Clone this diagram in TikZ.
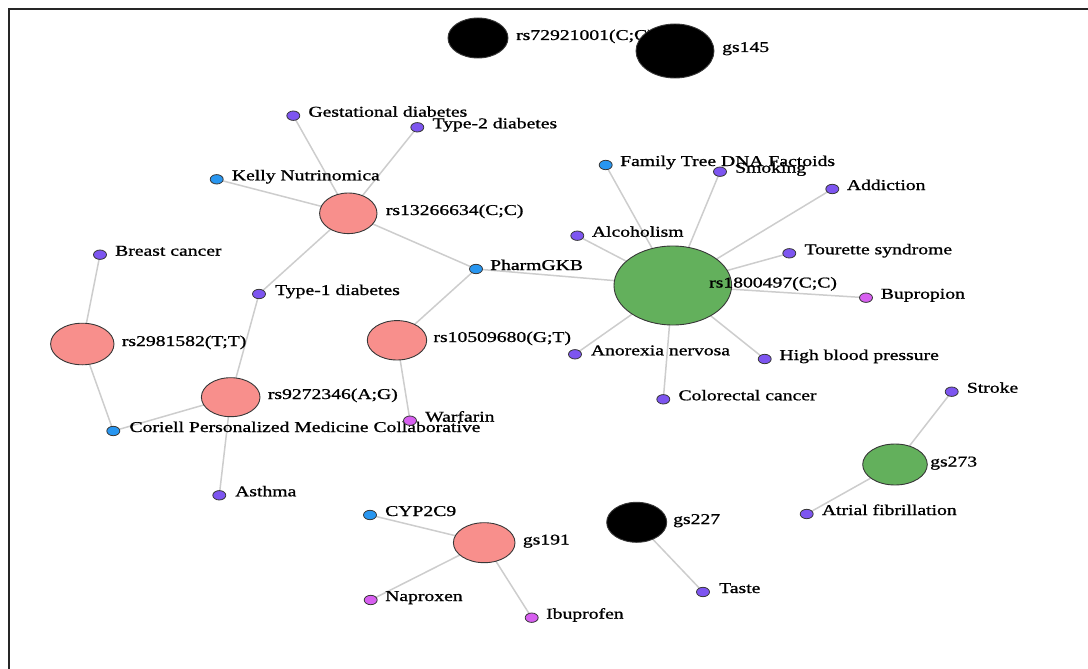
\documentclass[tikz,border=0pt]{standalone}
\usepackage{fontspec}
\setmainfont{Liberation Serif}
\newfontfamily\lblfont{Liberation Serif}[FakeBold=0.9]
\usepackage{graphicx}
\usetikzlibrary{shapes.geometric}
\pgfdeclarelayer{edges}
\pgfsetlayers{edges,main}

\definecolor{cpink}{RGB}{248,143,140}
\definecolor{cgreen}{RGB}{99,176,92}
\definecolor{cpurple}{RGB}{125,85,240}
\definecolor{cblue}{RGB}{40,150,240}
\definecolor{cmagenta}{RGB}{215,95,240}
\definecolor{cedge}{RGB}{205,205,205}
\definecolor{coutline}{RGB}{55,55,55}

% labels are set wide, as in the original rendering
\newcommand{\lbltext}[1]{\scalebox{1.31}[1]{#1}}

\tikzset{
  hub/.style={ellipse, draw=coutline, line width=0.9pt, inner sep=0pt},
  dot/.style={ellipse, draw=coutline, line width=0.8pt, inner sep=0pt,
              minimum width=13pt, minimum height=9.4pt},
  lbl/.style={anchor=base west, inner sep=0pt, text=black,
              font=\lblfont\fontsize{15}{15}\selectfont},
  edge/.style={draw=cedge, line width=1.5pt}
}

\begin{document}
\begin{tikzpicture}[x=1pt,y=-1pt]
\useasboundingbox (0,0) rectangle (1088,669);

% frame
\draw[line width=2.8pt, black!85] (9,670) -- (9,9) -- (1089,9);

% ---- top, unconnected ----
\node[hub, fill=black, minimum width=60pt, minimum height=40pt] (rs729) at (478,38) {};
\node[lbl] (rs729-t) at (516,40) {\lbltext{rs72921001(C;C)}};
\node[hub, fill=black, minimum width=78pt, minimum height=54pt] (gs145) at (675,51) {};
\node[lbl] (gs145-t) at (722,52) {\lbltext{gs145}};

% ---- rs13266634 cluster ----
\node[dot, fill=cpurple] (gest) at (293.3,115.7) {};
\node[lbl] (gest-t) at (308.3,116.7) {\lbltext{Gestational diabetes}};
\node[dot, fill=cpurple] (t2d) at (417.3,127.3) {};
\node[lbl] (t2d-t) at (432.3,128.3) {\lbltext{Type-2 diabetes}};
\node[dot, fill=cblue] (kelly) at (216.7,179.3) {};
\node[lbl] (kelly-t) at (231.7,180.3) {\lbltext{Kelly Nutrinomica}};
\node[hub, fill=cpink, minimum width=57.4pt, minimum height=40.6pt] (rs1326) at (348.3,213.3) {};
\node[lbl] (rs1326-t) at (385.7,215) {\lbltext{rs13266634(C;C)}};
\node[dot, fill=cblue] (pharm) at (476,269) {};
\node[lbl] (pharm-t) at (490,270) {\lbltext{PharmGKB}};
\node[dot, fill=cpurple] (t1d) at (259,294) {};
\node[lbl] (t1d-t) at (275,295) {\lbltext{Type-1 diabetes}};

% ---- left clusters ----
\node[dot, fill=cpurple] (breast) at (100,254.7) {};
\node[lbl] (breast-t) at (115,255.7) {\lbltext{Breast cancer}};
\node[hub, fill=cpink, minimum width=63.4pt, minimum height=41.6pt] (rs2981) at (82.3,344) {};
\node[lbl] (rs2981-t) at (121.7,346) {\lbltext{rs2981582(T;T)}};
\node[hub, fill=cpink, minimum width=59.4pt, minimum height=39.4pt] (rs1050) at (397,340.3) {};
\node[lbl] (rs1050-t) at (433.3,342) {\lbltext{rs10509680(G;T)}};
\node[hub, fill=cpink, minimum width=58.6pt, minimum height=39pt] (rs9272) at (230.7,397.2) {};
\node[lbl] (rs9272-t) at (267.7,399) {\lbltext{rs9272346(A;G)}};
\node[dot, fill=cblue] (coriell) at (113.3,431) {};
\node[lbl] (coriell-t) at (129.3,432) {\lbltext{Coriell Personalized Medicine Collaborative}};
\node[dot, fill=cmagenta] (warf) at (410,420.7) {};
\node[lbl] (warf-t) at (425,421.7) {\lbltext{Warfarin}};
\node[dot, fill=cpurple] (asthma) at (219.3,495.3) {};
\node[lbl] (asthma-t) at (235,496.3) {\lbltext{Asthma}};

% ---- rs1800497 cluster ----
\node[dot, fill=cblue] (ftdna) at (605.7,165) {};
\node[lbl] (ftdna-t) at (620,166) {\lbltext{Family Tree DNA Factoids}};
\node[dot, fill=cpurple] (smoking) at (720,171.7) {};
\node[lbl] (smoking-t) at (735,172.7) {\lbltext{Smoking}};
\node[dot, fill=cpurple] (addict) at (832.3,189) {};
\node[lbl] (addict-t) at (846.7,190) {\lbltext{Addiction}};
\node[dot, fill=cpurple] (alcohol) at (577.3,235.7) {};
\node[lbl] (alcohol-t) at (591.7,236.7) {\lbltext{Alcoholism}};
\node[dot, fill=cpurple] (tourette) at (789.3,253.3) {};
\node[lbl] (tourette-t) at (804.3,254.3) {\lbltext{Tourette syndrome}};
\node[hub, fill=cgreen, minimum width=117.6pt, minimum height=79pt] (rs1800) at (672.8,285.5) {};
\node[lbl] (rs1800-t) at (709,287.5) {\lbltext{rs1800497(C;C)}};
\node[dot, fill=cmagenta] (bupro) at (866,297.7) {};
\node[lbl] (bupro-t) at (880.7,298.7) {\lbltext{Bupropion}};
\node[dot, fill=cpurple] (anorexia) at (575,354.3) {};
\node[lbl] (anorexia-t) at (590.7,355.3) {\lbltext{Anorexia nervosa}};
\node[dot, fill=cpurple] (hbp) at (764.7,359) {};
\node[lbl] (hbp-t) at (779.3,360) {\lbltext{High blood pressure}};
\node[dot, fill=cpurple] (colo) at (663.3,399.3) {};
\node[lbl] (colo-t) at (678.3,400.3) {\lbltext{Colorectal cancer}};

% ---- gs273 ----
\node[dot, fill=cpurple] (stroke) at (951.7,391.7) {};
\node[lbl] (stroke-t) at (966.7,392.7) {\lbltext{Stroke}};
\node[hub, fill=cgreen, minimum width=64.6pt, minimum height=41pt] (gs273) at (895,464.5) {};
\node[lbl] (gs273-t) at (930,466.5) {\lbltext{gs273}};
\node[dot, fill=cpurple] (atrial) at (806.7,514) {};
\node[lbl] (atrial-t) at (821.7,515) {\lbltext{Atrial fibrillation}};

% ---- gs191 and gs227 ----
\node[dot, fill=cblue] (cyp) at (370,515) {};
\node[lbl] (cyp-t) at (385,516) {\lbltext{CYP2C9}};
\node[hub, fill=cpink, minimum width=61.6pt, minimum height=40pt] (gs191) at (484.2,542.7) {};
\node[lbl] (gs191-t) at (522.7,544.5) {\lbltext{gs191}};
\node[dot, fill=cmagenta] (naprox) at (370.7,600) {};
\node[lbl] (naprox-t) at (385,601) {\lbltext{Naproxen}};
\node[dot, fill=cmagenta] (ibu) at (531.7,617.7) {};
\node[lbl] (ibu-t) at (546,618.7) {\lbltext{Ibuprofen}};
\node[hub, fill=black, minimum width=60pt, minimum height=40pt] (gs227) at (636.7,522.3) {};
\node[lbl] (gs227-t) at (673,524) {\lbltext{gs227}};
\node[dot, fill=cpurple] (taste) at (703,592) {};
\node[lbl] (taste-t) at (719,593) {\lbltext{Taste}};

% ---- connectors, beneath the nodes ----
\begin{pgfonlayer}{edges}
\foreach \a/\b in {rs1326/gest, rs1326/t2d, rs1326/kelly, rs1326/pharm, rs1326/t1d,
                   rs2981/breast, rs2981/coriell,
                   rs9272/t1d, rs9272/coriell, rs9272/asthma,
                   rs1050/pharm, rs1050/warf,
                   rs1800/pharm, rs1800/ftdna, rs1800/smoking, rs1800/addict,
                   rs1800/alcohol, rs1800/tourette, rs1800/bupro, rs1800/anorexia,
                   rs1800/hbp, rs1800/colo,
                   gs273/stroke, gs273/atrial,
                   gs191/cyp, gs191/naprox, gs191/ibu,
                   gs227/taste}
  \draw[edge] (\a.center) -- (\b.center);
\end{pgfonlayer}
\end{tikzpicture}
\end{document}
